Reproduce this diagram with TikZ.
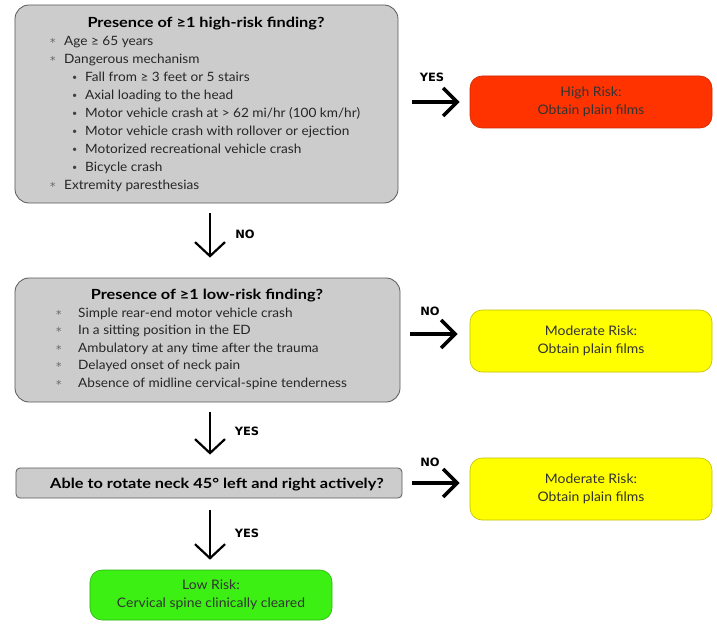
\documentclass[tikz,border=0pt]{standalone}
\usepackage{fontspec}
\setmainfont{Lato}
\newfontfamily\bodyfont[FakeStretch=1.06]{Lato}
\newfontfamily\ttlfont[FakeStretch=1.17]{Lato}
\newfontfamily\labfont{DejaVu Sans}
\usetikzlibrary{arrows.meta}
\definecolor{boxgray}{RGB}{204,204,204}
\definecolor{hired}{RGB}{255,51,0}
\definecolor{modyel}{RGB}{255,255,0}
\definecolor{lowgreen}{RGB}{60,240,20}
\begin{document}
\begin{tikzpicture}[x=1bp,y=-1bp,
  graybox/.style={draw=black!65, fill=boxgray, rounded corners=14bp, line width=0.8bp, inner sep=0},
  flatbox/.style={draw=black!65, fill=boxgray, rounded corners=4bp, line width=0.8bp, inner sep=0},
  colbox/.style={rounded corners=12bp, line width=0.6bp, inner sep=0, minimum width=242bp, align=center, text=black!80, font=\bodyfont\fontsize{13.2}{18}\selectfont},
  ttl/.style={anchor=base, inner sep=0, font=\ttlfont\bfseries\fontsize{14}{16}\selectfont},
  lst/.style={anchor=base west, inner sep=0, text=black!85, font=\bodyfont\fontsize{12.9}{14}\selectfont},
  ast/.style={anchor=base west, inner sep=0, text=black!60, font=\labfont\fontsize{11}{14}\selectfont},
  dot/.style={anchor=base west, inner sep=0, text=black!75, font=\fontsize{9}{14}\selectfont},
  lab/.style={inner sep=0, font=\labfont\bfseries\fontsize{11.5}{12}\selectfont},
  harr/.style={line width=3.5bp, -{Straight Barb[length=14bp,width=28bp]}},
  varr/.style={line width=2.2bp, -{Straight Barb[length=14bp,width=30bp]}}
]
\useasboundingbox (0,0) rectangle (717,627);

% box 1
\node[graybox, minimum width=383bp, minimum height=198bp] (b1) at (206.5,104) {};
\node[ttl] (t1) at (206,28) {Presence of ≥1 high-risk finding?};
\node[ast] (s1) at (50,47) {*};
\node[lst] (l1) at (64,46) {Age ≥ 65 years};
\node[ast] (s2) at (50,64.5) {*};
\node[lst] (l2) at (64,63.5) {Dangerous mechanism};
\node[dot] (p1) at (72,80.5) {•};
\node[lst] (l3) at (85,81.5) {Fall from ≥ 3 feet or 5 stairs};
\node[dot] (p2) at (72,98.5) {•};
\node[lst] (l4) at (85,99.5) {Axial loading to the head};
\node[dot] (p3) at (72,116.5) {•};
\node[lst] (l5) at (85,117.5) {Motor vehicle crash at > 62 mi/hr (100 km/hr)};
\node[dot] (p4) at (72,134.5) {•};
\node[lst] (l6) at (85,135.5) {Motor vehicle crash with rollover or ejection};
\node[dot] (p5) at (72,152.5) {•};
\node[lst] (l7) at (85,153.5) {Motorized recreational vehicle crash};
\node[dot] (p6) at (72,170.5) {•};
\node[lst] (l8) at (85,171.5) {Bicycle crash};
\node[ast] (s3) at (50,190.5) {*};
\node[lst] (l9) at (64,189.5) {Extremity paresthesias};

% high risk
\node[colbox, fill=hired, draw=hired!80!black, minimum height=52bp] (hr) at (591,102) {High Risk:\\Obtain plain films};

% box 2
\node[graybox, minimum width=385bp, minimum height=124bp] (b2) at (207.5,340) {};
\node[ttl] (t2) at (207,299) {Presence of ≥1 low-risk finding?};
\node[ast] (s4) at (56,318) {*};
\node[lst] (m1t) at (78,317) {Simple rear-end motor vehicle crash};
\node[ast] (s5) at (56,335.5) {*};
\node[lst] (m2t) at (78,334.5) {In a sitting position in the ED};
\node[ast] (s6) at (56,353) {*};
\node[lst] (m3t) at (78,352) {Ambulatory at any time after the trauma};
\node[ast] (s7) at (56,370.5) {*};
\node[lst] (m4t) at (78,369.5) {Delayed onset of neck pain};
\node[ast] (s8) at (56,388) {*};
\node[lst] (m5t) at (78,387) {Absence of midline cervical-spine tenderness};

% moderate 1
\node[colbox, fill=modyel, draw=modyel!75!black, minimum height=62bp] (mr1) at (591,341) {Moderate Risk:\\Obtain plain films};

% box 3
\node[flatbox, minimum width=386bp, minimum height=30bp] (b3) at (209,483) {};
\node[ttl] (t3) at (217,488) {Able to rotate neck 45° left and right actively?};

% moderate 2
\node[colbox, fill=modyel, draw=modyel!75!black, minimum height=62bp] (mr2) at (591,489) {Moderate Risk:\\Obtain plain films};

% low risk
\node[colbox, fill=lowgreen, draw=lowgreen!75!black, minimum height=50bp] (lr) at (211,595) {Low Risk:\\Cervical spine clinically cleared};

% arrows
\draw[harr, shorten <=14bp, shorten >=10bp] (b1.east |- hr.west) -- (hr.west);
\draw[varr, shorten <=10bp, shorten >=20bp] (b1.south -| 210,0) -- (b2.north -| 210,0);
\draw[harr, shorten <=10bp, shorten >=12bp] (b2.east |- 0,334) -- (mr1.west |- 0,334);
\draw[varr, shorten <=10bp, shorten >=13bp] (b2.south -| 210,0) -- (b3.north -| 210,0);
\draw[harr, shorten <=10bp, shorten >=10bp] (b3.east) -- (b3.east -| mr2.west);
\draw[varr, shorten <=12bp, shorten >=10bp] (b3.south -| 210,0) -- (lr.north -| 210,0);

% labels
\node[lab] (y1) at (432,77) {YES};
\node[lab] (n1) at (245,234) {NO};
\node[lab] (n2) at (430,311) {NO};
\node[lab] (y2) at (247,431) {YES};
\node[lab] (n3) at (430,462) {NO};
\node[lab] (y3) at (247,533) {YES};
\end{tikzpicture}
\end{document}
